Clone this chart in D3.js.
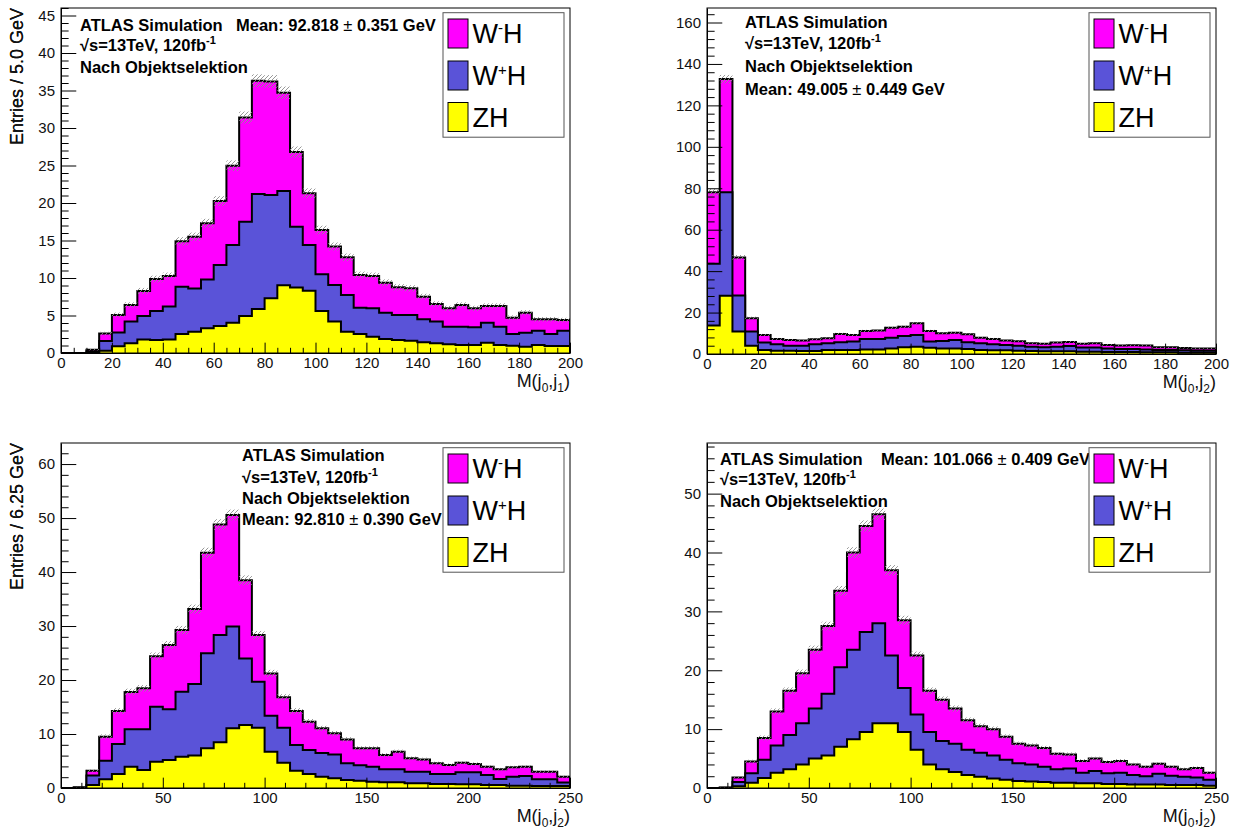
<!DOCTYPE html>
<html>
<head>
<meta charset="utf-8">
<script src="https://cdn.jsdelivr.net/npm/d3@7"></script>
<style>
  body { margin: 0; background: #fff; }
  text { font-family: "Liberation Sans", Arial, Helvetica, sans-serif; }
</style>
</head>
<body>
<svg id="chart" width="1236" height="834"></svg>
<script>
// ---- data: entries per bin, one array per process (ZH, W+H, W-H) ----
// M(j0,j1), 40 bins of 5 GeV
const zh_j0j1 = [0, 0, 0.05, 0.3, 0.9, 1.3, 1.8, 1.75, 1.8, 2.53, 2.84, 3.3, 3.6, 4.04, 4.93, 5.87, 7.29, 9.02, 8.75, 8.3,
  5.6, 4.2, 2.84, 2.53, 2.18, 1.87, 1.73, 1.64, 1.42, 1.29, 1.16, 1.07, 1.07, 1.38, 1.07, 0.98, 0.84, 1.07, 0.93, 0.93];
const wp_j0j1 = [0, 0, 0.2, 1.3, 1.85, 2.9, 3.13, 3.85, 4.4, 6.32, 5.76, 6.5, 8.15, 10.36, 12.57, 15.33, 13.78, 12.58, 8.09, 6.1,
  4.9, 4.87, 4.89, 3.51, 3.78, 3.51, 3.34, 3.43, 3.07, 2.91, 2.35, 2.43, 2.35, 2.66, 2.43, 1.55, 1.87, 1.91, 1.6, 2.05];
const wm_j0j1 = [0, 0, 0.2, 1.0, 2.32, 2.2, 3.34, 4.27, 4.07, 6.05, 6.9, 7.5, 8.52, 10.57, 13.9, 15.1, 15.13, 13.1, 9.96, 6.9,
  5.9, 5.13, 5.03, 4.36, 4.31, 4.0, 3.69, 3.55, 3.02, 2.33, 2.45, 2.9, 2.54, 2.23, 2.77, 2.18, 2.67, 1.51, 1.96, 1.42];

// M(j0,j2), 40 bins of 5 GeV
const zh_j0j2a = [13.7, 28.1, 10.8, 4.0, 1.9, 1.6, 1.6, 1.45, 1.45, 1.9, 1.9, 1.9, 2.2, 2.2, 2.7, 3.2, 3.5, 3.0, 2.7, 2.7,
  2.4, 1.9, 1.8, 1.8, 1.6, 1.45, 1.3, 1.3, 1.3, 1.1, 1.1, 1.0, 1.0, 1.0, 0.8, 0.8, 0.8, 0.6, 0.6, 0.6];
const wp_j0j2a = [29.9, 50.0, 17.4, 6.8, 3.6, 3.1, 2.4, 2.55, 3.25, 3.3, 3.8, 4.1, 5.1, 5.1, 5.2, 5.5, 5.7, 3.0, 3.6, 4.1,
  3.3, 3.3, 2.9, 2.6, 2.4, 2.05, 1.9, 2.2, 2.6, 2.0, 2.0, 1.7, 1.4, 1.4, 1.4, 1.1, 1.1, 1.2, 1.0, 1.0];
const wm_j0j2a = [34.5, 54.6, 18.4, 6.5, 3.7, 2.56, 2.8, 2.5, 2.4, 2.4, 4.0, 3.2, 3.8, 4.0, 4.8, 4.5, 5.6, 5.1, 3.7, 3.5,
  3.8, 2.7, 2.6, 2.1, 2.2, 1.7, 1.7, 2.0, 1.9, 1.8, 2.1, 1.7, 1.7, 1.8, 1.9, 1.3, 1.3, 1.1, 1.1, 1.1];

// M(j0,j2), 40 bins of 6.25 GeV (left)
const zh_j0j2b = [0, 0, 0.56, 1.6, 2.59, 3.95, 3.33, 4.88, 5.19, 5.8, 6.0, 7.35, 8.46, 11.05, 11.67, 11.17, 6.73, 4.69, 3.2, 2.59,
  2.1, 1.79, 1.48, 1.36, 1.17, 1.05, 1.05, 0.86, 0.86, 0.74, 0.74, 0.68, 0.68, 0.56, 0.56, 0.43, 0.43, 0.37, 0.37, 0.37];
const wp_j0j2b = [0, 0.05, 1.74, 3.46, 5.56, 6.91, 7.57, 10.18, 9.41, 12.04, 13.26, 17.59, 19.87, 18.85, 12.33, 8.53, 6.67, 6.48, 4.76, 4.45,
  4.4, 4.41, 3.12, 2.84, 2.78, 2.41, 2.41, 2.17, 2.17, 1.85, 1.85, 2.22, 2.22, 1.84, 1.11, 1.67, 1.77, 1.23, 1.23, 0.63];
const wm_j0j2b = [0, 0.1, 0.9, 4.44, 6.11, 6.94, 7.56, 9.34, 11.9, 11.42, 13.89, 18.64, 20.47, 20.66, 14.5, 8.63, 7.83, 5.63, 6.3, 5.24,
  4.55, 3.92, 4.4, 3.15, 3.4, 2.64, 3.27, 2.47, 2.27, 1.98, 1.67, 1.79, 1.54, 1.55, 1.79, 1.73, 1.75, 1.43, 1.43, 1.1];

// M(j0,j2), 40 bins of 6.25 GeV (right)
const zh_j0j2c = [0, 0, 0.3, 0.9, 1.7, 2.6, 3.2, 4.0, 5.0, 5.5, 7.0, 8.3, 9.5, 11.0, 11.0, 9.5, 6.5, 4.0, 3.2, 2.7,
  2.2, 1.9, 1.6, 1.4, 1.2, 1.1, 1.0, 0.9, 0.9, 0.8, 0.8, 0.7, 0.7, 0.6, 0.6, 0.6, 0.5, 0.5, 0.5, 0.4];
const wp_j0j2c = [0, 0.05, 0.7, 1.6, 3.1, 4.6, 5.8, 7.0, 8.5, 10.5, 13.5, 15.2, 17.0, 17.0, 11.5, 7.5, 6.0, 5.5, 4.8, 4.8,
  4.3, 4.1, 3.9, 3.4, 3.0, 2.9, 2.6, 2.3, 2.4, 1.8, 2.1, 1.8, 1.9, 1.6, 1.4, 1.8, 1.6, 1.4, 1.3, 1.0];
const wm_j0j2c = [0, 0.05, 0.8, 2.0, 3.7, 5.8, 7.5, 8.5, 10.0, 11.5, 13.0, 16.5, 18.0, 18.5, 14.5, 11.5, 10.0, 7.0, 7.0, 6.0,
  5.0, 4.5, 4.5, 3.9, 3.3, 3.2, 3.2, 2.6, 2.4, 2.0, 2.1, 1.9, 2.0, 1.8, 1.6, 1.7, 1.5, 1.3, 1.6, 1.2];

const meanTexts = ['92.818', '49.005', '92.810', '101.066'];
const meanErrs = ['0.351', '0.449', '0.390', '0.409'];
const yTitles = ['Entries / 5.0 GeV', 'Entries / 5.0 GeV', 'Entries / 6.25 GeV', 'Entries / 6.25 GeV'];
const xSubs = [['0', '1'], ['0', '2'], ['0', '2'], ['0', '2']];
const infoLines = ['ATLAS Simulation', '\u221As=13TeV, 120fb', 'Nach Objektselektion'];
const legendParts = [['W', '-', 'H'], ['W', '+', 'H'], ['ZH', '', '']];
const keys = ['wm', 'wp', 'zh'];
const colors = { zh: '#ffff00', wp: '#5a53d8', wm: '#ff00ff' };

// per-event weight used for the MC stat. uncertainty band
const eventWeights = [0.02, 0.03, 0.02, 0.02];

// ---- layout ----
const panels = [
  { left: 61, right: 570, top: 8, bottom: 353, xmax: 200, binw: 5, ymax: 46, yMajor: 5, yMinor: 1, xMajor: 20, xMinor: 5,
    zh: zh_j0j1, wp: wp_j0j1, wm: wm_j0j1, info: { x: 80, ys: [31, 51, 73] }, mean: { x: 236, y: 31 } },
  { left: 707, right: 1216, top: 8, bottom: 354, xmax: 200, binw: 5, ymax: 167, yMajor: 20, yMinor: 4, xMajor: 20, xMinor: 5,
    zh: zh_j0j2a, wp: wp_j0j2a, wm: wm_j0j2a, info: { x: 745, ys: [27.5, 48.5, 71.5] }, mean: { x: 745, y: 94.5 } },
  { left: 61, right: 570, top: 443, bottom: 788, xmax: 250, binw: 6.25, ymax: 63.9, yMajor: 10, yMinor: 2, xMajor: 50, xMinor: 10,
    zh: zh_j0j2b, wp: wp_j0j2b, wm: wm_j0j2b, info: { x: 242, ys: [461, 482.5, 503.5] }, mean: { x: 242, y: 525 } },
  { left: 707, right: 1216, top: 443, bottom: 788, xmax: 250, binw: 6.25, ymax: 58.6, yMajor: 10, yMinor: 2, xMajor: 50, xMinor: 10,
    zh: zh_j0j2c, wp: wp_j0j2c, wm: wm_j0j2c, info: { x: 720, ys: [465, 485, 507] }, mean: { x: 881, y: 465 } }
];

const svg = d3.select('#chart');
svg.append('rect').attr('width', 1236).attr('height', 834).attr('fill', '#fff');
const defs = svg.append('defs');
defs.append('pattern').attr('id', 'hatch')
  .attr('patternUnits', 'userSpaceOnUse').attr('width', 4).attr('height', 4)
  .append('path').attr('d', 'M-1,1 L1,-1 M0,4 L4,0 M3,5 L5,3')
  .attr('stroke', '#8c8c8c').attr('stroke-width', 0.9);

panels.forEach((p, pi) => drawPanel(p, pi));

function drawPanel (p, pi) {
  let nb = p.zh.length;
  let edges = d3.range(nb + 1).map(i => i * p.binw);
  let x = d3.scaleLinear().domain([0, p.xmax]).range([p.left, p.right]);
  let y = d3.scaleLinear().domain([0, p.ymax]).range([p.bottom, p.top]);
  let rows = d3.range(nb).map(i => ({ zh: p.zh[i], wp: p.wp[i], wm: p.wm[i] }));
  let stacked = d3.stack().keys(['zh', 'wp', 'wm'])(rows);

  let g = svg.append('g');
  defs.append('clipPath').attr('id', 'clip' + pi)
    .append('rect').attr('x', p.left).attr('y', p.top)
    .attr('width', p.right - p.left).attr('height', p.bottom - p.top);
  let plot = g.append('g').attr('clip-path', `url(#clip${pi})`);

  let area = d3.area().curve(d3.curveStepAfter)
    .x(d => x(d[0])).y0(y(0)).y1(d => y(d[1]));
  let line = d3.line().curve(d3.curveStepAfter)
    .x(d => x(d[0])).y(d => y(d[1]));

  // largest stack first, then the ones below on top of it
  stacked.slice().reverse().forEach(layer => {
    let pts = [[0, 0]].concat(layer.map((d, i) => [edges[i], d[1]]));
    pts.push([edges[nb], layer[nb - 1][1]]);
    pts.push([edges[nb], 0]);
    plot.append('path').attr('d', area(pts)).attr('fill', colors[layer.key]);
    plot.append('path').attr('d', line(pts)).attr('fill', 'none')
      .attr('stroke', '#000').attr('stroke-width', 2);
  });

  // stat. uncertainty band on the total
  let totals = stacked[2].map(d => d[1]);
  totals.forEach((t, i) => {
    if (t <= 0) return;
    let e = Math.sqrt(eventWeights[pi] * t);
    plot.append('rect')
      .attr('x', x(edges[i])).attr('width', x(edges[i + 1]) - x(edges[i]))
      .attr('y', y(t + e)).attr('height', y(t - e) - y(t + e))
      .attr('fill', 'url(#hatch)');
  });

  // frame
  g.append('rect').attr('x', p.left).attr('y', p.top)
    .attr('width', p.right - p.left).attr('height', p.bottom - p.top)
    .attr('fill', 'none').attr('stroke', '#000').attr('stroke-width', 1);

  // axes
  let yMaj = d3.range(0, p.ymax + 1e-6, p.yMajor);
  let yMin = d3.range(0, p.ymax + 1e-6, p.yMinor).filter(v => Math.abs(v / p.yMajor - Math.round(v / p.yMajor)) > 1e-6);
  let xMaj = d3.range(0, p.xmax + 1e-6, p.xMajor);
  let xMin = d3.range(0, p.xmax + 1e-6, p.xMinor).filter(v => Math.abs(v / p.xMajor - Math.round(v / p.xMajor)) > 1e-6);
  let tickY = 0.03 * (p.right - p.left);
  let tickX = 0.03 * (p.bottom - p.top);

  g.append('g').attr('transform', `translate(${p.left},0)`)
    .call(d3.axisLeft(y).tickValues(yMaj).tickSize(-tickY).tickSizeOuter(0).tickPadding(6).tickFormat(d3.format('d')));
  g.append('g').attr('transform', `translate(${p.left},0)`)
    .call(d3.axisLeft(y).tickValues(yMin).tickSize(-tickY / 2).tickFormat(''))
    .select('.domain').remove();
  g.append('g').attr('transform', `translate(0,${p.bottom})`)
    .call(d3.axisBottom(x).tickValues(xMaj).tickSize(-tickX).tickSizeOuter(0).tickPadding(4).tickFormat(d3.format('d')));
  g.append('g').attr('transform', `translate(0,${p.bottom})`)
    .call(d3.axisBottom(x).tickValues(xMin).tickSize(-tickX / 2).tickFormat(''))
    .select('.domain').remove();
  g.selectAll('.tick text').attr('font-size', 15).attr('fill', '#111')
    .attr('font-family', '"Liberation Sans", Arial, sans-serif');
  g.selectAll('.tick line, .domain').attr('stroke', '#000');

  // axis titles
  g.append('text').attr('transform', `translate(23,${p.top}) rotate(-90)`)
    .attr('text-anchor', 'end').attr('font-size', 18).attr('font-weight', 'normal')
    .attr('fill', '#111').text(yTitles[pi]);
  let xt = g.append('text').attr('x', p.right).attr('y', p.bottom + 34)
    .attr('text-anchor', 'end').attr('font-size', 18).attr('fill', '#111');
  xt.append('tspan').text('M(j');
  xt.append('tspan').attr('font-size', 12).attr('dy', 5).text(xSubs[pi][0]);
  xt.append('tspan').attr('dy', -5).text(',j');
  xt.append('tspan').attr('font-size', 12).attr('dy', 5).text(xSubs[pi][1]);
  xt.append('tspan').attr('dy', -5).text(')');

  // info text
  infoLines.forEach((s, li) => {
    let t = g.append('text').attr('x', p.info.x).attr('y', p.info.ys[li])
      .attr('font-size', 16.5).attr('font-weight', 'bold').text(s);
    if (li === 1) {
      t.append('tspan').attr('font-size', 11).attr('dy', -7).text('-1');
    }
  });
  let mt = g.append('text').attr('x', p.mean.x).attr('y', p.mean.y)
    .attr('font-size', 16.5).attr('font-weight', 'bold');
  mt.append('tspan').text('Mean: ' + meanTexts[pi] + '  ');
  mt.append('tspan').attr('font-weight', 'normal').text('\u00B1');
  mt.append('tspan').text(' ' + meanErrs[pi] + ' GeV');

  // legend
  let lg = g.append('g');
  lg.append('rect').attr('x', p.right - 127).attr('y', p.top + 4.7)
    .attr('width', 121).attr('height', 124.5)
    .attr('fill', '#fff').attr('stroke', '#555').attr('stroke-width', 1);
  let legendY = [25.5, 67.5, 109];
  keys.forEach((k, i) => {
    let cy = p.top + legendY[i];
    lg.append('rect').attr('x', p.right - 122).attr('y', cy - 14.5)
      .attr('width', 20).attr('height', 29)
      .attr('fill', colors[k]).attr('stroke', '#000').attr('stroke-width', 1);
    let lt = lg.append('text').attr('x', p.right - 97.5).attr('y', cy + 9.7).attr('font-size', 27);
    let parts = legendParts[i];
    lt.append('tspan').text(parts[0]);
    if (parts[1]) {
      lt.append('tspan').attr('font-size', 15).attr('dy', -10.5).text(parts[1]);
      lt.append('tspan').attr('dy', 10.5).text(parts[2]);
    }
  });
}
</script>
</body>
</html>
